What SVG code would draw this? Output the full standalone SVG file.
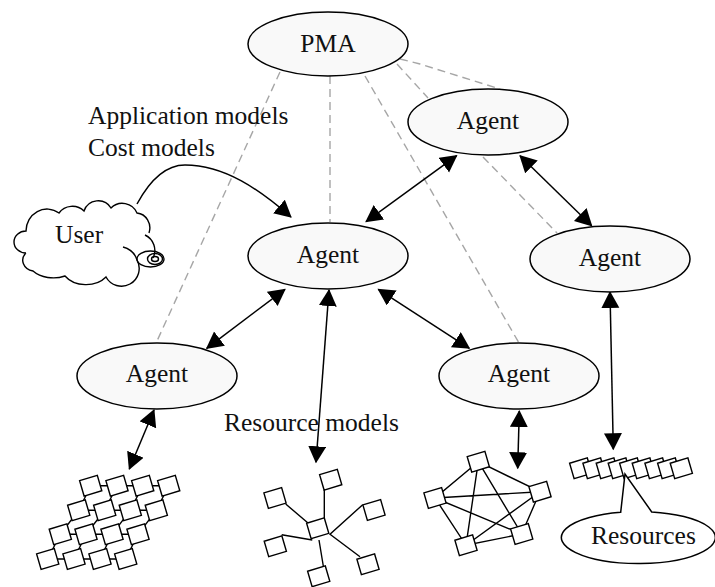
<svg xmlns="http://www.w3.org/2000/svg" xmlns:xlink="http://www.w3.org/1999/xlink" width="715" height="587" viewBox="0 0 715 587">
<style>
text{font-family:"Liberation Serif","Times New Roman",serif;font-size:25.5px;fill:#111}
.m{text-anchor:middle}
.node{fill:#f9f9f9;stroke:#000;stroke-width:1.5}
.dash{fill:none;stroke:#a6a6a6;stroke-width:1.4;stroke-dasharray:8 5}
.arrow{fill:none;stroke:#000;stroke-width:1.5;marker-start:url(#head);marker-end:url(#head)}
.sq{fill:#fff;stroke:#000;stroke-width:1.4}
.lk{fill:none;stroke:#000;stroke-width:1.4}
.ln{fill:none;stroke:#000;stroke-width:1.4}
</style>
<defs>
<marker id="head" markerUnits="userSpaceOnUse" markerWidth="20" markerHeight="20" refX="16" refY="9" orient="auto-start-reverse"><path d="M0 0L17 9L0 18Z" fill="#000"/></marker>
<marker id="end" markerUnits="userSpaceOnUse" markerWidth="20" markerHeight="20" refX="16" refY="9" orient="auto"><path d="M0 0L17 9L0 18Z" fill="#000"/></marker>
<polygon id="s" class="sq" points="-11.1,-5.05 6.6,-10.35 11.1,5.05 -6.6,10.35"/>
</defs>
<g id="connectors">
<path class="dash" d="M280 72L157 341"/>
<path class="dash" d="M330 76V222"/>
<path class="dash" d="M365 76L519 343"/>
<path class="dash" d="M397 64L428 98"/>
<path class="dash" d="M400 59L420 64L500 89"/>
<path class="dash" d="M483 157L557 233"/>
<path class="arrow" d="M456.7 155.7L366 221.7"/>
<path class="arrow" d="M520 155.7L591.7 225.7"/>
<path class="arrow" d="M285 289.3L206.7 348.3"/>
<path class="arrow" d="M378.3 289.3L469.3 348.3"/>
<path class="arrow" d="M329 290L316 462.3"/>
<path class="arrow" d="M154 410L129.3 469"/>
<path class="arrow" d="M519.3 411L517.7 468.3"/>
<path class="arrow" d="M610 292L613.3 449.3"/>
<path fill="none" stroke="#000" stroke-width="1.5" marker-end="url(#end)" d="M137 204C150 180 165 165 185 165C225 165 260 190 291 217"/>
</g>
<g id="pma"><ellipse class="node" cx="328" cy="44" rx="80" ry="32"/><text class="m" x="328" y="52">PMA</text></g>
<g id="agent-top"><ellipse class="node" cx="488" cy="122" rx="80" ry="33"/><text class="m" x="488" y="129">Agent</text></g>
<g id="agent-center"><ellipse class="node" cx="328" cy="256" rx="80" ry="33"/><text class="m" x="328" y="263">Agent</text></g>
<g id="agent-right"><ellipse class="node" cx="610" cy="259" rx="80" ry="33"/><text class="m" x="610" y="266">Agent</text></g>
<g id="agent-left"><ellipse class="node" cx="157" cy="376" rx="80" ry="33"/><text class="m" x="157" y="382">Agent</text></g>
<g id="agent-lower"><ellipse class="node" cx="519" cy="376" rx="80" ry="33"/><text class="m" x="519" y="382">Agent</text></g>
<g id="labels">
<text x="88" y="124">Application models</text>
<text x="88" y="156">Cost models</text>
<text x="224" y="431">Resource models</text>
</g>
<g id="user">
<path class="ln" d="M26 253A12 11 0 0 1 26 231A21 22 0 0 1 59 213A16 15 0 0 1 84 211A15 15 0 0 1 111 208A16 16 0 0 1 137 213A14 15 0 0 1 149 233M145 235A17 17 0 0 1 153 258M123 247Q134 250 137 260A15 15 0 0 1 106 277A25 19 0 0 1 65 276A26 18 0 0 1 33 271A13 11 0 0 1 26 253"/>
<ellipse class="ln" cx="150.5" cy="259" rx="13.5" ry="8"/>
<ellipse class="ln" cx="155" cy="259" rx="7.5" ry="5.5"/>
<ellipse class="ln" cx="155" cy="259" rx="3.5" ry="2.5"/>
<text x="55" y="243">User</text>
</g>
<g id="grid-net">
<path class="lk" d="M90.7 485.7H168.7M78.7 510.3H156.3M60.3 534.3H138M47.7 559H125.7M90.7 485.7L78.7 510.3L60.3 534.3L47.7 559M117 485.7L104.7 510.3L86 534.3L74 559M142.7 485.7L130.3 510.3L112 534.3L100 559M168.7 485.7L156.3 510.3L138 534.3L125.7 559"/>
<use xlink:href="#s" href="#s" x="90.7" y="485.7"/><use xlink:href="#s" href="#s" x="117" y="485.7"/><use xlink:href="#s" href="#s" x="142.7" y="485.7"/><use xlink:href="#s" href="#s" x="168.7" y="485.7"/>
<use xlink:href="#s" href="#s" x="78.7" y="510.3"/><use xlink:href="#s" href="#s" x="104.7" y="510.3"/><use xlink:href="#s" href="#s" x="130.3" y="510.3"/><use xlink:href="#s" href="#s" x="156.3" y="510.3"/>
<use xlink:href="#s" href="#s" x="60.3" y="534.3"/><use xlink:href="#s" href="#s" x="86" y="534.3"/><use xlink:href="#s" href="#s" x="112" y="534.3"/><use xlink:href="#s" href="#s" x="138" y="534.3"/>
<use xlink:href="#s" href="#s" x="47.7" y="559"/><use xlink:href="#s" href="#s" x="74" y="559"/><use xlink:href="#s" href="#s" x="100" y="559"/><use xlink:href="#s" href="#s" x="125.7" y="559"/>
</g>
<g id="star-net">
<path class="lk" d="M324.3 490V518M285.7 504L308.3 523.3M362.7 504.7L330 534.3L360 556.7M281.7 534.7L312.3 540M319 540L323.3 566"/>
<use xlink:href="#s" href="#s" x="317.7" y="528.3"/><use xlink:href="#s" href="#s" x="330.7" y="479.7"/><use xlink:href="#s" href="#s" x="275" y="498"/><use xlink:href="#s" href="#s" x="374" y="510"/><use xlink:href="#s" href="#s" x="275.3" y="546.3"/><use xlink:href="#s" href="#s" x="368" y="564.3"/><use xlink:href="#s" href="#s" x="318.7" y="576.3"/>
</g>
<g id="mesh-net">
<path class="lk" d="M478.3 461.7L435 498L466 545.3L521.7 534L540 491.7ZM478.3 461.7L466 545.3M478.3 461.7L521.7 534M435 498L540 491.7M435 498L521.7 534M466 545.3L540 491.7"/>
<use xlink:href="#s" href="#s" x="478.3" y="461.7"/><use xlink:href="#s" href="#s" x="435" y="498"/><use xlink:href="#s" href="#s" x="540" y="491.7"/><use xlink:href="#s" href="#s" x="466" y="545.3"/><use xlink:href="#s" href="#s" x="521.7" y="534"/>
</g>
<g id="bus-net">
<use xlink:href="#s" href="#s" x="580.7" y="468.3"/><use xlink:href="#s" href="#s" x="594" y="468.3"/><use xlink:href="#s" href="#s" x="607.3" y="468.3"/><use xlink:href="#s" href="#s" x="619.3" y="468.3"/><use xlink:href="#s" href="#s" x="630.7" y="468.3"/><use xlink:href="#s" href="#s" x="643.3" y="468.3"/><use xlink:href="#s" href="#s" x="656" y="468.3"/><use xlink:href="#s" href="#s" x="668.7" y="468.3"/><use xlink:href="#s" href="#s" x="681.3" y="468.3"/>
</g>
<g id="resources">
<path fill="#fff" stroke="#000" stroke-width="1.5" d="M620.7 512.2L625 474L651.7 511.9A77 26 0 1 1 620.7 512.2Z"/>
<text x="591" y="544">Resources</text>
</g>
</svg>
